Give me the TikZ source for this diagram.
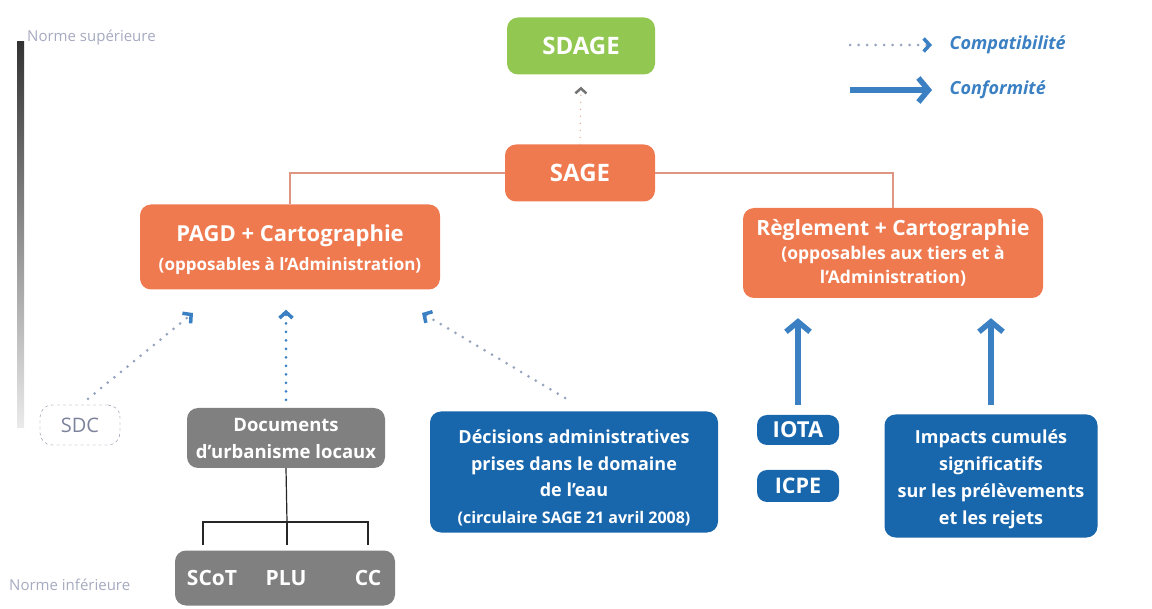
\documentclass[tikz,border=0pt]{standalone}
\usepackage{fontspec}
\setmainfont{Open Sans}
\usetikzlibrary{arrows.meta,calc}
\definecolor{sgreen}{RGB}{146,200,82}
\definecolor{sorange}{RGB}{239,122,80}
\definecolor{sblue}{RGB}{24,102,172}
\definecolor{ablue}{RGB}{58,128,195}
\definecolor{sgray}{RGB}{128,128,128}
\definecolor{dotgray}{RGB}{150,165,190}
\definecolor{lblgray}{RGB}{165,170,192}
\definecolor{sdcgray}{RGB}{125,130,155}
\definecolor{linksal}{RGB}{222,150,130}
\newcommand\fs[2]{\fontsize{#1}{#2}\selectfont}
\tikzset{
  box/.style={rounded corners=11pt, text=white, align=center, inner sep=2pt},
  greenbox/.style={box, fill=sgreen},
  orangebox/.style={box, fill=sorange},
  bluebox/.style={box, fill=sblue},
  graybox/.style={box, fill=sgray},
  boxtext/.style={text=white, align=center, inner sep=0pt},
  compat/.style={line width=3pt, line cap=round, dash pattern=on 0pt off 8.5pt, draw=dotgray,
    -{Straight Barb[length=6pt,width=13pt,line width=3.5pt,color=ablue]}},
  conform/.style={line width=6pt, draw=ablue,
    -{Straight Barb[length=10pt,width=24pt,line width=5.5pt,color=ablue]}},
  link/.style={draw=linksal, line width=1.3pt},
  treeline/.style={draw=black!85, line width=1.2pt},
}
\begin{document}
\begin{tikzpicture}[x=1pt,y=-1pt]
\useasboundingbox (0,0) rectangle (1152,609);
% scale bar
\shade[top color=black!80, bottom color=black!8] (17,42) rectangle (24,428);
\node[text=lblgray, font=\fs{15}{16}, anchor=west, inner sep=0pt] (nsup) at (27,38) {Norme supérieure};
\node[text=lblgray, font=\fs{15}{16}, anchor=west, inner sep=0pt] (ninf) at (9,585) {Norme inférieure};

% main nodes
\node[greenbox, minimum width=148pt, minimum height=57pt, font=\fs{24}{26}\bfseries] (sdage) at (581,46) {SDAGE};
\node[orangebox, minimum width=150pt, minimum height=57pt, font=\fs{24}{26}\bfseries] (sage) at (580,173) {SAGE};
\node[orangebox, minimum width=300pt, minimum height=85pt] (pagd) at (290,247) {};
\node[boxtext, font=\fs{17}{29}\bfseries] (pagdtxt) at ($(pagd.center)+(0,3)$)
  {\fs{22}{28}PAGD + Cartographie\\(opposables à l’Administration)};
\node[orangebox, minimum width=300pt, minimum height=90pt, font=\fs{17.5}{24}\bfseries] (regl) at (893,253)
  {\fs{21}{26}Règlement + Cartographie\\(opposables aux tiers et à\\l’Administration)};

\node[draw=sdcgray, dashed, rounded corners=12pt, minimum width=80pt, minimum height=40pt, text=sdcgray, font=\fs{20}{22}] (sdc) at (80,425) {SDC};
\node[graybox, minimum width=198pt, minimum height=60pt, font=\fs{18.5}{27}\bfseries] (docs) at (286,438) {Documents\\d’urbanisme locaux};
\node[graybox, minimum width=220pt, minimum height=55pt] (urb) at (285,578) {};
\node[text=white, font=\fs{21}{22}\bfseries] (scot) at (212,578) {SCoT};
\node[text=white, font=\fs{21}{22}\bfseries] (plu) at (286,578) {PLU};
\node[text=white, font=\fs{21}{22}\bfseries] (cc) at (368,578) {CC};

\node[bluebox, minimum width=288pt, minimum height=121pt] (dec) at (574,472) {};
\node[boxtext, font=\fs{18}{26.5}\bfseries] (dectxt) at ($(dec.center)+(0,6)$)
  {Décisions administratives\\prises dans le domaine\\de l’eau\\\fs{16}{29}(circulaire SAGE 21 avril 2008)};
\node[bluebox, rounded corners=10pt, minimum width=82pt, minimum height=30pt, font=\fs{22}{24}\bfseries] (iota) at (798,430) {IOTA};
\node[bluebox, rounded corners=10pt, minimum width=82pt, minimum height=32pt, font=\fs{21.5}{24}\bfseries] (icpe) at (798,486) {ICPE};
\node[bluebox, minimum width=213pt, minimum height=123pt] (imp) at (991,476) {};
\node[boxtext, font=\fs{18}{27}\bfseries] (imptxt) at ($(imp.center)+(0,3)$)
  {Impacts cumulés\\significatifs\\sur les prélèvements\\et les rejets};

% links
\draw[link] (sage.west) -| (pagd.north);
\draw[link] (sage.east) -| (regl.north);
\draw[line width=1.3pt, line cap=round, dash pattern=on 0pt off 7pt, draw=linksal,
  -{Straight Barb[length=5pt,width=11pt,line width=2.5pt,color=black!55]}] (sage.north) -- ($(sdage.south)+(0,12)$);

% compatibility arrows
\coordinate (sdcend) at (193,313);
\coordinate (decstart) at (565,398);
\coordinate (decend) at (422,313);
\draw[compat] ($(sdc.north)+(8,-6)$) -- (sdcend);
\draw[compat, draw=ablue] ($(docs.north)+(0,-8)$) -- ($(docs.north|-pagd.south)+(0,20)$);
\draw[compat] (decstart) -- (decend);

% conformity arrows
\draw[conform] ($(iota.north)+(0,-10)$) -- ($(iota.north|-regl.south)+(0,20)$);
\draw[conform] ($(imp.north)+(0,-9)$) -- ($(imp.north|-regl.south)+(0,20)$);

% tree
\coordinate (tj) at (287,522);
\draw[treeline] (docs.south) -- (tj);
\draw[treeline] (203,545) |- (368,522) -- (368,545);
\draw[treeline] (tj) -- (287,545);

% legend
\coordinate (l1a) at (850,45);
\coordinate (l1b) at (932,45);
\coordinate (l2a) at (850,90);
\coordinate (l2b) at (932,90);
\draw[compat] (l1a) -- (l1b);
\draw[conform] (l2a) -- (l2b);
\node[anchor=west, text=ablue, font=\fs{18}{20}\itshape\bfseries] (lc1) at (946,45) {Compatibilité};
\node[anchor=west, text=ablue, font=\fs{18}{20}\itshape\bfseries] (lc2) at (946,90) {Conformité};
\end{tikzpicture}
\end{document}
